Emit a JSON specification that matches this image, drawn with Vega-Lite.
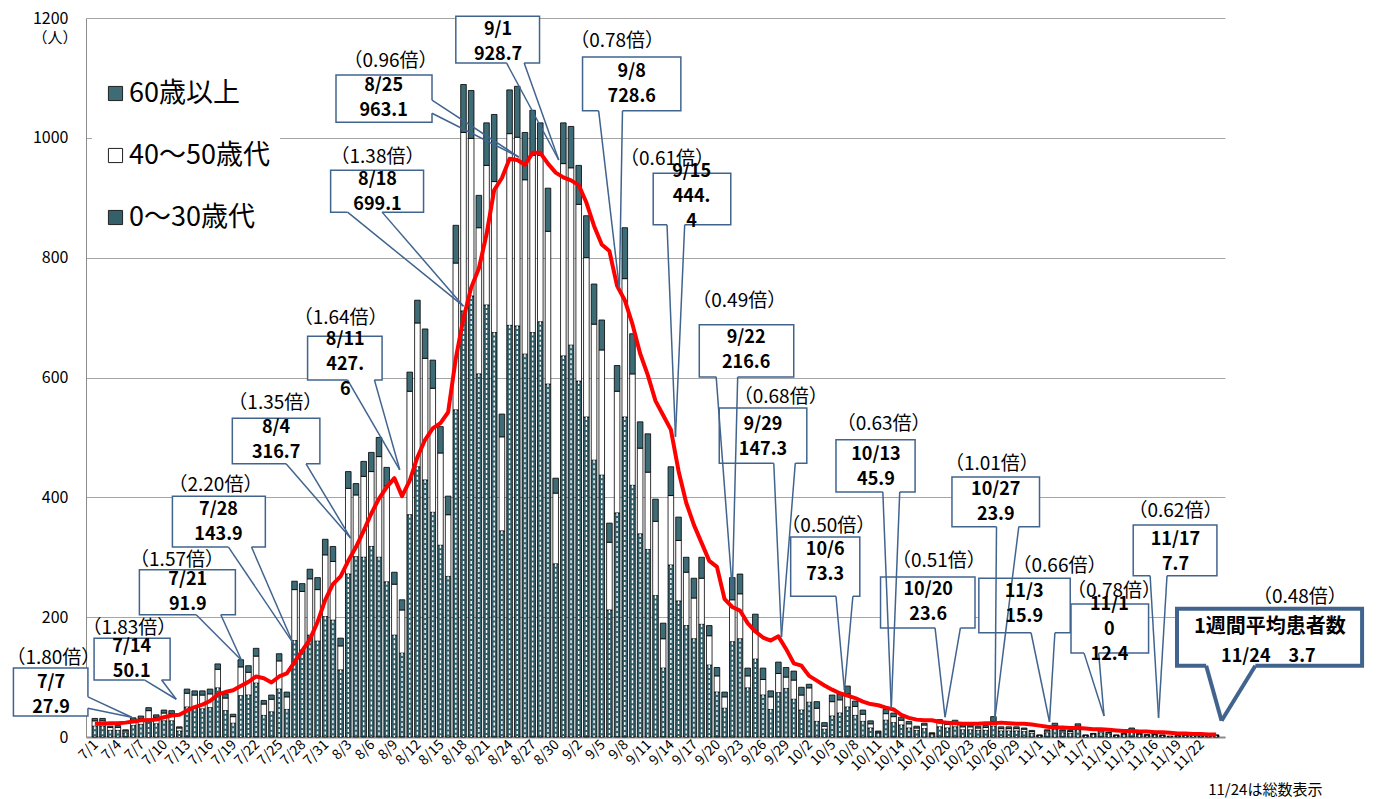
{
 "$schema": "https://vega.github.io/schema/vega-lite/v6.json",
 "width": 1139,
 "height": 719,
 "autosize": {"type": "none"},
 "padding": {"left": 86, "top": 18, "right": 155, "bottom": 62},
 "background": "white",
 "config": {"view": {"stroke": null}, "font": "Noto Sans CJK JP"},
 "datasets": {
  "daily": [
   {"i":0,"date":"7/1","a":18,"b":9,"c":4,"m":22},
   {"i":1,"date":"7/2","a":18,"b":9,"c":4,"m":22},
   {"i":2,"date":"7/3","a":11,"b":5,"c":2,"m":23},
   {"i":3,"date":"7/4","a":11,"b":5,"c":3,"m":23},
   {"i":4,"date":"7/5","a":7,"b":3,"c":2,"m":24},
   {"i":5,"date":"7/6","a":19,"b":9,"c":4,"m":26},
   {"i":6,"date":"7/7","a":21,"b":10,"c":4,"m":28},
   {"i":7,"date":"7/8","a":30,"b":14,"c":5,"m":28},
   {"i":8,"date":"7/9","a":22,"b":11,"c":4,"m":29},
   {"i":9,"date":"7/10","a":27,"b":13,"c":5,"m":33},
   {"i":10,"date":"7/11","a":27,"b":12,"c":5,"m":36},
   {"i":11,"date":"7/12","a":10,"b":5,"c":2,"m":37},
   {"i":12,"date":"7/13","a":50,"b":23,"c":7,"m":44},
   {"i":13,"date":"7/14","a":48,"b":22,"c":7,"m":50},
   {"i":14,"date":"7/15","a":47,"b":23,"c":7,"m":54},
   {"i":15,"date":"7/16","a":49,"b":23,"c":8,"m":60},
   {"i":16,"date":"7/17","a":82,"b":31,"c":9,"m":71},
   {"i":17,"date":"7/18","a":44,"b":21,"c":7,"m":75},
   {"i":18,"date":"7/19","a":23,"b":11,"c":4,"m":78},
   {"i":19,"date":"7/20","a":69,"b":48,"c":12,"m":85},
   {"i":20,"date":"7/21","a":70,"b":38,"c":11,"m":92},
   {"i":21,"date":"7/22","a":90,"b":45,"c":13,"m":101},
   {"i":22,"date":"7/23","a":36,"b":19,"c":6,"m":98},
   {"i":23,"date":"7/24","a":42,"b":21,"c":7,"m":91},
   {"i":24,"date":"7/25","a":80,"b":47,"c":12,"m":101},
   {"i":25,"date":"7/26","a":46,"b":21,"c":8,"m":106},
   {"i":26,"date":"7/27","a":161,"b":85,"c":14,"m":125},
   {"i":27,"date":"7/28","a":145,"b":98,"c":13,"m":144},
   {"i":28,"date":"7/29","a":170,"b":94,"c":16,"m":163},
   {"i":29,"date":"7/30","a":160,"b":86,"c":20,"m":192},
   {"i":30,"date":"7/31","a":201,"b":103,"c":26,"m":229},
   {"i":31,"date":"8/1","a":195,"b":98,"c":25,"m":255},
   {"i":32,"date":"8/2","a":112,"b":40,"c":13,"m":268},
   {"i":33,"date":"8/3","a":272,"b":143,"c":28,"m":294},
   {"i":34,"date":"8/4","a":301,"b":103,"c":19,"m":317},
   {"i":35,"date":"8/5","a":300,"b":135,"c":25,"m":344},
   {"i":36,"date":"8/6","a":318,"b":125,"c":32,"m":373},
   {"i":37,"date":"8/7","a":300,"b":168,"c":32,"m":398},
   {"i":38,"date":"8/8","a":259,"b":160,"c":31,"m":417},
   {"i":39,"date":"8/9","a":170,"b":85,"c":20,"m":432},
   {"i":40,"date":"8/10","a":140,"b":72,"c":17,"m":402},
   {"i":41,"date":"8/11","a":371,"b":206,"c":32,"m":428},
   {"i":42,"date":"8/12","a":451,"b":240,"c":38,"m":467},
   {"i":43,"date":"8/13","a":429,"b":203,"c":49,"m":496},
   {"i":44,"date":"8/14","a":375,"b":207,"c":47,"m":515},
   {"i":45,"date":"8/15","a":320,"b":154,"c":44,"m":524},
   {"i":46,"date":"8/16","a":268,"b":103,"c":31,"m":542},
   {"i":47,"date":"8/17","a":546,"b":245,"c":63,"m":632},
   {"i":48,"date":"8/18","a":711,"b":298,"c":80,"m":699},
   {"i":49,"date":"8/19","a":736,"b":263,"c":80,"m":750},
   {"i":50,"date":"8/20","a":606,"b":244,"c":54,"m":782},
   {"i":51,"date":"8/21","a":721,"b":233,"c":71,"m":839},
   {"i":52,"date":"8/22","a":675,"b":252,"c":112,"m":913},
   {"i":53,"date":"8/23","a":344,"b":157,"c":38,"m":933},
   {"i":54,"date":"8/24","a":687,"b":320,"c":73,"m":965},
   {"i":55,"date":"8/25","a":686,"b":315,"c":85,"m":963},
   {"i":56,"date":"8/26","a":639,"b":291,"c":79,"m":955},
   {"i":57,"date":"8/27","a":675,"b":296,"c":75,"m":975},
   {"i":58,"date":"8/28","a":693,"b":278,"c":54,"m":975},
   {"i":59,"date":"8/29","a":589,"b":255,"c":72,"m":957},
   {"i":60,"date":"8/30","a":289,"b":118,"c":25,"m":942},
   {"i":61,"date":"8/31","a":636,"b":321,"c":68,"m":934},
   {"i":62,"date":"9/1","a":654,"b":296,"c":69,"m":929},
   {"i":63,"date":"9/2","a":594,"b":295,"c":65,"m":921},
   {"i":64,"date":"9/3","a":534,"b":266,"c":70,"m":892},
   {"i":65,"date":"9/4","a":462,"b":227,"c":67,"m":853},
   {"i":66,"date":"9/5","a":437,"b":209,"c":50,"m":822},
   {"i":67,"date":"9/6","a":212,"b":113,"c":32,"m":811},
   {"i":68,"date":"9/7","a":374,"b":203,"c":43,"m":753},
   {"i":69,"date":"9/8","a":534,"b":231,"c":85,"m":729},
   {"i":70,"date":"9/9","a":420,"b":186,"c":67,"m":689},
   {"i":71,"date":"9/10","a":339,"b":143,"c":44,"m":640},
   {"i":72,"date":"9/11","a":313,"b":129,"c":64,"m":604},
   {"i":73,"date":"9/12","a":236,"b":124,"c":37,"m":561},
   {"i":74,"date":"9/13","a":115,"b":49,"c":26,"m":537},
   {"i":75,"date":"9/14","a":287,"b":116,"c":48,"m":513},
   {"i":76,"date":"9/15","a":227,"b":101,"c":39,"m":444},
   {"i":77,"date":"9/16","a":186,"b":89,"c":25,"m":391},
   {"i":78,"date":"9/17","a":164,"b":68,"c":33,"m":354},
   {"i":79,"date":"9/18","a":188,"b":77,"c":35,"m":324},
   {"i":80,"date":"9/19","a":120,"b":49,"c":17,"m":294},
   {"i":81,"date":"9/20","a":75,"b":27,"c":14,"m":284},
   {"i":82,"date":"9/21","a":48,"b":19,"c":8,"m":230},
   {"i":83,"date":"9/22","a":159,"b":70,"c":37,"m":217},
   {"i":84,"date":"9/23","a":164,"b":75,"c":33,"m":211},
   {"i":85,"date":"9/24","a":82,"b":20,"c":13,"m":190},
   {"i":86,"date":"9/25","a":130,"b":47,"c":28,"m":176},
   {"i":87,"date":"9/26","a":70,"b":26,"c":19,"m":166},
   {"i":88,"date":"9/27","a":46,"b":21,"c":10,"m":161},
   {"i":89,"date":"9/28","a":74,"b":32,"c":19,"m":168},
   {"i":90,"date":"9/29","a":81,"b":19,"c":16,"m":147},
   {"i":91,"date":"9/30","a":63,"b":32,"c":15,"m":123},
   {"i":92,"date":"10/1","a":45,"b":25,"c":13,"m":119},
   {"i":93,"date":"10/2","a":58,"b":24,"c":6,"m":102},
   {"i":94,"date":"10/3","a":26,"b":22,"c":11,"m":94},
   {"i":95,"date":"10/4","a":13,"b":5,"c":6,"m":86},
   {"i":96,"date":"10/5","a":35,"b":24,"c":11,"m":79},
   {"i":97,"date":"10/6","a":40,"b":22,"c":10,"m":73},
   {"i":98,"date":"10/7","a":50,"b":22,"c":13,"m":69},
   {"i":99,"date":"10/8","a":36,"b":15,"c":9,"m":65},
   {"i":100,"date":"10/9","a":26,"b":12,"c":7,"m":59},
   {"i":101,"date":"10/10","a":15,"b":7,"c":5,"m":55},
   {"i":102,"date":"10/11","a":6,"b":2,"c":2,"m":53},
   {"i":103,"date":"10/12","a":28,"b":11,"c":7,"m":49},
   {"i":104,"date":"10/13","a":24,"b":10,"c":6,"m":46},
   {"i":105,"date":"10/14","a":20,"b":8,"c":5,"m":37},
   {"i":106,"date":"10/15","a":15,"b":7,"c":4,"m":32},
   {"i":107,"date":"10/16","a":11,"b":4,"c":3,"m":29},
   {"i":108,"date":"10/17","a":14,"b":6,"c":3,"m":28},
   {"i":109,"date":"10/18","a":4,"b":2,"c":1,"m":28},
   {"i":110,"date":"10/19","a":17,"b":8,"c":4,"m":25},
   {"i":111,"date":"10/20","a":15,"b":6,"c":4,"m":24},
   {"i":112,"date":"10/21","a":17,"b":7,"c":4,"m":23},
   {"i":113,"date":"10/22","a":12,"b":5,"c":3,"m":22},
   {"i":114,"date":"10/23","a":12,"b":5,"c":3,"m":22},
   {"i":115,"date":"10/24","a":11,"b":4,"c":3,"m":22},
   {"i":116,"date":"10/25","a":11,"b":5,"c":3,"m":23},
   {"i":117,"date":"10/26","a":18,"b":8,"c":8,"m":23},
   {"i":118,"date":"10/27","a":10,"b":4,"c":3,"m":24},
   {"i":119,"date":"10/28","a":10,"b":4,"c":3,"m":23},
   {"i":120,"date":"10/29","a":10,"b":4,"c":3,"m":22},
   {"i":121,"date":"10/30","a":9,"b":4,"c":2,"m":22},
   {"i":122,"date":"10/31","a":6,"b":3,"c":2,"m":21},
   {"i":123,"date":"11/1","a":2,"b":1,"c":0,"m":19},
   {"i":124,"date":"11/2","a":7,"b":3,"c":2,"m":17},
   {"i":125,"date":"11/3","a":13,"b":6,"c":4,"m":16},
   {"i":126,"date":"11/4","a":7,"b":3,"c":2,"m":16},
   {"i":127,"date":"11/5","a":6,"b":3,"c":2,"m":15},
   {"i":128,"date":"11/6","a":12,"b":6,"c":4,"m":15},
   {"i":129,"date":"11/7","a":2,"b":1,"c":0,"m":14},
   {"i":130,"date":"11/8","a":4,"b":1,"c":1,"m":13},
   {"i":131,"date":"11/9","a":7,"b":3,"c":2,"m":13},
   {"i":132,"date":"11/10","a":5,"b":2,"c":1,"m":12},
   {"i":133,"date":"11/11","a":2,"b":1,"c":0,"m":11},
   {"i":134,"date":"11/12","a":4,"b":1,"c":1,"m":10},
   {"i":135,"date":"11/13","a":8,"b":4,"c":3,"m":10},
   {"i":136,"date":"11/14","a":4,"b":1,"c":1,"m":9},
   {"i":137,"date":"11/15","a":2,"b":1,"c":1,"m":9},
   {"i":138,"date":"11/16","a":3,"b":1,"c":1,"m":8},
   {"i":139,"date":"11/17","a":2,"b":1,"c":0,"m":8},
   {"i":140,"date":"11/18","a":1,"b":0,"c":0,"m":7},
   {"i":141,"date":"11/19","a":1,"b":1,"c":0,"m":6},
   {"i":142,"date":"11/20","a":2,"b":1,"c":0,"m":6},
   {"i":143,"date":"11/21","a":2,"b":1,"c":0,"m":5},
   {"i":144,"date":"11/22","a":1,"b":1,"c":0,"m":5},
   {"i":145,"date":"11/23","a":1,"b":1,"c":0,"m":4},
   {"i":146,"date":"11/24","a":2,"b":1,"c":0,"m":4}
  ],
  "notes": [
   {"id":"7/7","x1":-10.6,"x2":-0.9,"y1":35,"y2":115,"b1x":-0.9,"b1y":67,"b2x":-0.9,"b2y":48,"tx":4.8,"ty":33,"cx":-5.7,"cy":90,"t":"7/7\n27.9","rx":-5.4,"ry":132,"r":"（1.80倍）"},
   {"id":"7/14","x1":-0.1,"x2":9.8,"y1":95,"y2":165,"b1x":6.5,"b1y":95,"b2x":8.7,"b2y":95,"tx":10.6,"ty":63,"cx":4.8,"cy":150,"t":"7/14\n50.1","rx":4.5,"ry":182,"r":"（1.83倍）"},
   {"id":"7/21","x1":5.8,"x2":18.3,"y1":204,"y2":279,"b1x":13.2,"b1y":204,"b2x":16.4,"b2y":204,"tx":19.1,"ty":128,"cx":12.1,"cy":262,"t":"7/21\n91.9","rx":10.7,"ry":295,"r":"（1.57倍）"},
   {"id":"7/28","x1":10.1,"x2":22.2,"y1":317,"y2":402,"b1x":17.4,"b1y":317,"b2x":20.4,"b2y":317,"tx":25.8,"ty":157,"cx":16.1,"cy":379,"t":"7/28\n143.9","rx":15.7,"ry":420,"r":"（2.20倍）"},
   {"id":"8/4","x1":17.9,"x2":29.3,"y1":456,"y2":532,"b1x":24.9,"b1y":456,"b2x":27.5,"b2y":456,"tx":33.3,"ty":332,"cx":23.6,"cy":516,"t":"8/4\n316.7","rx":23.5,"ry":558,"r":"（1.35倍）"},
   {"id":"8/11","x1":27.7,"x2":37.4,"y1":596,"y2":669,"b1x":32.9,"b1y":596,"b2x":36.4,"b2y":596,"tx":39.7,"ty":446,"cx":32.6,"cy":663,"t":"8/11\n427.\n6","rx":32.0,"ry":700,"r":"（1.64倍）"},
   {"id":"8/18","x1":30.7,"x2":42.8,"y1":876,"y2":946,"b1x":32.9,"b1y":876,"b2x":37.4,"b2y":876,"tx":48.0,"ty":719,"cx":36.8,"cy":930,"t":"8/18\n699.1","rx":36.8,"ry":968,"r":"（1.38倍）"},
   {"id":"8/25","x1":31.4,"x2":43.9,"y1":1026,"y2":1105,"b1x":43.9,"b1y":1063,"b2x":43.9,"b2y":1041,"tx":55.2,"ty":968,"cx":37.6,"cy":1087,"t":"8/25\n963.1","rx":38.5,"ry":1128,"r":"（0.96倍）"},
   {"id":"9/1","x1":47.0,"x2":57.9,"y1":1125,"y2":1203,"b1x":53.6,"b1y":1125,"b2x":55.9,"b2y":1125,"tx":60.4,"ty":963,"cx":52.5,"cy":1180,"t":"9/1\n928.7","rx":52.5,"ry":1220,"r":""},
   {"id":"9/8","x1":63.5,"x2":76.3,"y1":1045,"y2":1135,"b1x":65.6,"b1y":1045,"b2x":68.7,"b2y":1045,"tx":68.3,"ty":749,"cx":69.9,"cy":1110,"t":"9/8\n728.6","rx":68.0,"ry":1161,"r":"（0.78倍）"},
   {"id":"9/15","x1":72.7,"x2":82.8,"y1":855,"y2":941,"b1x":74.5,"b1y":855,"b2x":76.8,"b2y":855,"tx":75.6,"ty":501,"cx":77.7,"cy":943,"t":"9/15\n444.\n4","rx":74.5,"ry":964,"r":"（0.61倍）"},
   {"id":"9/22","x1":78.7,"x2":91.0,"y1":601,"y2":688,"b1x":80.9,"b1y":601,"b2x":83.7,"b2y":601,"tx":83.0,"ty":245,"cx":84.8,"cy":666,"t":"9/22\n216.6","rx":83.9,"ry":727,"r":"（0.49倍）"},
   {"id":"9/29","x1":81.3,"x2":92.7,"y1":457,"y2":549,"b1x":88.4,"b1y":457,"b2x":91.2,"b2y":457,"tx":89.4,"ty":167,"cx":87.0,"cy":521,"t":"9/29\n147.3","rx":89.3,"ry":567,"r":"（0.68倍）"},
   {"id":"10/6","x1":90.6,"x2":99.6,"y1":235,"y2":334,"b1x":96.5,"b1y":235,"b2x":98.7,"b2y":235,"tx":97.6,"ty":78,"cx":95.1,"cy":312,"t":"10/6\n73.3","rx":95.5,"ry":352,"r":"（0.50倍）"},
   {"id":"10/13","x1":96.5,"x2":106.8,"y1":409,"y2":496,"b1x":102.6,"b1y":409,"b2x":104.8,"b2y":409,"tx":103.7,"ty":48,"cx":101.7,"cy":471,"t":"10/13\n45.9","rx":102.7,"ry":522,"r":"（0.63倍）"},
   {"id":"10/20","x1":102.3,"x2":114.6,"y1":182,"y2":267,"b1x":109.4,"b1y":182,"b2x":112.7,"b2y":182,"tx":110.7,"ty":33,"cx":108.5,"cy":245,"t":"10/20\n23.6","rx":109.9,"ry":293,"r":"（0.51倍）"},
   {"id":"10/27","x1":111.6,"x2":123.0,"y1":351,"y2":434,"b1x":117.4,"b1y":351,"b2x":120.3,"b2y":351,"tx":117.2,"ty":32,"cx":117.3,"cy":412,"t":"10/27\n23.9","rx":116.8,"ry":455,"r":"（1.01倍）"},
   {"id":"11/3","x1":115.1,"x2":127.0,"y1":174,"y2":265,"b1x":121.9,"b1y":174,"b2x":125.0,"b2y":174,"tx":124.3,"ty":25,"cx":121.0,"cy":242,"t":"11/3\n15.9","rx":125.6,"ry":286,"r":"（0.66倍）"},
   {"id":"11/10","x1":127.1,"x2":137.2,"y1":140,"y2":222,"b1x":128.8,"b1y":140,"b2x":130.7,"b2y":140,"tx":131.4,"ty":35,"cx":132.1,"cy":220,"t":"11/1\n0\n12.4","rx":132.7,"ry":243,"r":"（0.78倍）"},
   {"id":"11/17","x1":135.2,"x2":146.1,"y1":269,"y2":354,"b1x":137.4,"b1y":269,"b2x":139.6,"b2y":269,"tx":138.5,"ty":32,"cx":140.7,"cy":329,"t":"11/17\n7.7","rx":140.7,"ry":377,"r":"（0.62倍）"}
  ],
  "summary": [
   {"id":"11/24","x1":140.9,"x2":165.0,"y1":119,"y2":214,"b1x":144.7,"b1y":119,"b2x":151.1,"b2y":119,"tx":146.7,"ty":27,"h":"1週間平均患者数","hx":153.0,"hy":184,"t":"11/24　3.7","cx":152.8,"cy":134,"rx":156.9,"ry":233,"r":"（0.48倍）"}
  ],
  "misc": [
   {"t":"（人）","x":-5.2,"y":1166},
   {"t":"11/24は総数表示","x":152.4,"y":-88}
  ]
 },
 "layer": [
  {
   "data": {"name": "daily"},
   "transform": [{"fold": ["a", "b", "c"], "as": ["grp", "n"]}],
   "mark": {"type": "bar", "size": 5.6, "stroke": "#000000", "strokeWidth": 0.8},
   "encoding": {
    "x": {"field": "i", "type": "quantitative", "title": null,
          "scale": {"domain": [-0.5, 146.5], "nice": false, "zero": false},
          "axis": {"values": [0,3,6,9,12,15,18,21,24,27,30,33,36,39,42,45,48,51,54,57,60,63,66,69,72,75,78,81,84,87,90,93,96,99,102,105,108,111,114,117,120,123,126,129,132,135,138,141,144],
                   "labels": false, "ticks": false, "grid": false, "domainColor": "#8c8c8c", "domainWidth": 2}},
    "y": {"field": "n", "type": "quantitative", "stack": "zero", "title": null,
          "scale": {"domain": [0, 1200], "nice": false},
          "axis": {"values": [0,200,400,600,800,1000,1200], "format": "d", "labelFontSize": 16, "labelColor": "#000", "labelFont": "Noto Sans CJK JP",
                   "ticks": false, "domainColor": "#8c8c8c", "domainWidth": 1, "gridColor": "#a6a6a6", "gridWidth": 1, "labelPadding": 18}},
    "color": {"field": "grp", "type": "nominal",
              "scale": {"domain": ["c", "b", "a"], "range": ["#3d6b76", "#ffffff", "#33606b"]},
              "legend": {"orient": "none", "legendX": 6, "legendY": 52, "direction": "vertical", "title": null,
                         "labelExpr": "datum.label == 'c' ? '60歳以上' : datum.label == 'b' ? '40～50歳代' : '0～30歳代'",
                         "labelFontSize": 27, "labelFont": "Noto Sans CJK JP", "labelColor": "#000",
                         "symbolType": "square", "symbolSize": 200, "symbolStrokeColor": "#222", "symbolStrokeWidth": 1,
                         "rowPadding": 34, "padding": 10, "fillColor": "white", "labelOffset": 0}},
    "order": {"field": "grp", "sort": "ascending"}
   }
  },
  {
   "data": {"name": "daily"},
   "mark": {"type": "rule", "stroke": "#ffffff", "strokeWidth": 1.4, "strokeDash": [3, 2]},
   "encoding": {
    "x": {"field": "i", "type": "quantitative", "title": null},
    "y": {"field": "a", "type": "quantitative", "title": null},
    "y2": {"datum": 0}
   }
  },
  {
   "data": {"name": "daily"},
   "mark": {"type": "line", "color": "#ff0000", "strokeWidth": 4, "strokeJoin": "round"},
   "encoding": {
    "x": {"field": "i", "type": "quantitative", "title": null},
    "y": {"field": "m", "type": "quantitative", "title": null}
   }
  },
  {
   "data": {"name": "daily"},
   "transform": [{"filter": "datum.i % 3 == 0 && datum.i <= 144"}],
   "mark": {"type": "text", "font": "Noto Sans CJK JP", "fontSize": 14, "angle": 315, "align": "right", "baseline": "middle", "color": "#000", "dx": 2},
   "encoding": {
    "x": {"field": "i", "type": "quantitative", "title": null},
    "y": {"datum": -12, "type": "quantitative"},
    "text": {"field": "date"}
   }
  },
  {
   "data": {"name": "notes"},
   "mark": {"type": "rect", "fill": "white", "stroke": "#41648f", "strokeWidth": 1.5},
   "encoding": {
    "x": {"field": "x1", "type": "quantitative", "title": null}, "x2": {"field": "x2"},
    "y": {"field": "y1", "type": "quantitative", "title": null}, "y2": {"field": "y2"}
   }
  },
  {
   "data": {"name": "notes"},
   "mark": {"type": "rule", "stroke": "white", "strokeWidth": 3},
   "encoding": {
    "x": {"field": "b1x", "type": "quantitative", "title": null}, "x2": {"field": "b2x"},
    "y": {"field": "b1y", "type": "quantitative", "title": null}, "y2": {"field": "b2y"}
   }
  },
  {
   "data": {"name": "notes"},
   "mark": {"type": "rule", "stroke": "#41648f", "strokeWidth": 1.5},
   "encoding": {
    "x": {"field": "b1x", "type": "quantitative", "title": null}, "x2": {"field": "tx"},
    "y": {"field": "b1y", "type": "quantitative", "title": null}, "y2": {"field": "ty"}
   }
  },
  {
   "data": {"name": "notes"},
   "mark": {"type": "rule", "stroke": "#41648f", "strokeWidth": 1.5},
   "encoding": {
    "x": {"field": "b2x", "type": "quantitative", "title": null}, "x2": {"field": "tx"},
    "y": {"field": "b2y", "type": "quantitative", "title": null}, "y2": {"field": "ty"}
   }
  },
  {
   "data": {"name": "notes"},
   "mark": {"type": "text", "font": "Noto Sans CJK JP", "fontSize": 18, "fontWeight": "bold", "lineBreak": "\n", "lineHeight": 25, "align": "center", "baseline": "middle", "color": "#000"},
   "encoding": {
    "x": {"field": "cx", "type": "quantitative", "title": null},
    "y": {"field": "cy", "type": "quantitative", "title": null},
    "text": {"field": "t"}
   }
  },
  {
   "data": {"name": "notes"},
   "transform": [{"filter": "datum.r != ''"}],
   "mark": {"type": "text", "font": "Noto Sans CJK JP", "fontSize": 19, "align": "center", "baseline": "middle", "color": "#000"},
   "encoding": {
    "x": {"field": "rx", "type": "quantitative", "title": null},
    "y": {"field": "ry", "type": "quantitative", "title": null},
    "text": {"field": "r"}
   }
  },
  {
   "data": {"name": "summary"},
   "mark": {"type": "rect", "fill": "white", "stroke": "#41648f", "strokeWidth": 4},
   "encoding": {
    "x": {"field": "x1", "type": "quantitative", "title": null}, "x2": {"field": "x2"},
    "y": {"field": "y1", "type": "quantitative", "title": null}, "y2": {"field": "y2"}
   }
  },
  {
   "data": {"name": "summary"},
   "mark": {"type": "rule", "stroke": "white", "strokeWidth": 6},
   "encoding": {
    "x": {"field": "b1x", "type": "quantitative", "title": null}, "x2": {"field": "b2x"},
    "y": {"field": "b1y", "type": "quantitative", "title": null}, "y2": {"field": "b2y"}
   }
  },
  {
   "data": {"name": "summary"},
   "mark": {"type": "rule", "stroke": "#41648f", "strokeWidth": 4},
   "encoding": {
    "x": {"field": "b1x", "type": "quantitative", "title": null}, "x2": {"field": "tx"},
    "y": {"field": "b1y", "type": "quantitative", "title": null}, "y2": {"field": "ty"}
   }
  },
  {
   "data": {"name": "summary"},
   "mark": {"type": "rule", "stroke": "#41648f", "strokeWidth": 4},
   "encoding": {
    "x": {"field": "b2x", "type": "quantitative", "title": null}, "x2": {"field": "tx"},
    "y": {"field": "b2y", "type": "quantitative", "title": null}, "y2": {"field": "ty"}
   }
  },
  {
   "data": {"name": "summary"},
   "mark": {"type": "text", "font": "Noto Sans CJK JP", "fontSize": 20, "fontWeight": "bold", "align": "center", "baseline": "middle", "color": "#000"},
   "encoding": {
    "x": {"field": "hx", "type": "quantitative", "title": null},
    "y": {"field": "hy", "type": "quantitative", "title": null},
    "text": {"field": "h"}
   }
  },
  {
   "data": {"name": "summary"},
   "mark": {"type": "text", "font": "Noto Sans CJK JP", "fontSize": 18, "fontWeight": "bold", "align": "center", "baseline": "middle", "color": "#000"},
   "encoding": {
    "x": {"field": "cx", "type": "quantitative", "title": null},
    "y": {"field": "cy", "type": "quantitative", "title": null},
    "text": {"field": "t"}
   }
  },
  {
   "data": {"name": "summary"},
   "mark": {"type": "text", "font": "Noto Sans CJK JP", "fontSize": 19, "align": "center", "baseline": "middle", "color": "#000"},
   "encoding": {
    "x": {"field": "rx", "type": "quantitative", "title": null},
    "y": {"field": "ry", "type": "quantitative", "title": null},
    "text": {"field": "r"}
   }
  },
  {
   "data": {"name": "misc"},
   "mark": {"type": "text", "font": "Noto Sans CJK JP", "fontSize": 15, "align": "center", "baseline": "middle", "color": "#000"},
   "encoding": {
    "x": {"field": "x", "type": "quantitative", "title": null},
    "y": {"field": "y", "type": "quantitative", "title": null},
    "text": {"field": "t"}
   }
  }
 ]
}
